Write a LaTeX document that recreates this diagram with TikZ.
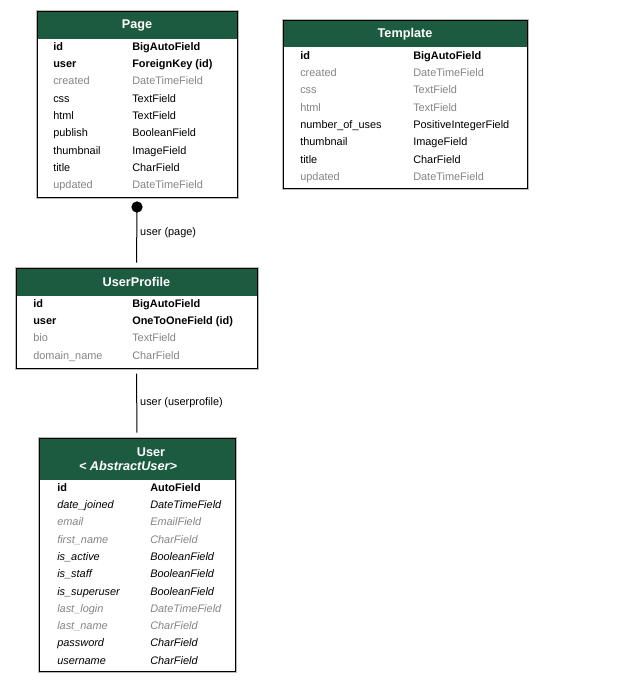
\documentclass[tikz,border=0pt]{standalone}
\usepackage{fontspec}
\setmainfont{Liberation Sans}
\usetikzlibrary{fit}

\definecolor{headgreen}{HTML}{1D5B41}
\definecolor{fadedtext}{HTML}{858585}

\begin{document}
\begin{tikzpicture}
    [x=.75pt,y=-.75pt,
     tablebox/.style={draw=black,line width=.75pt,fill=white,inner sep=0pt,
       preaction={draw=gray!55,line width=2.25pt}},
     tablehead/.style={fill=headgreen,inner sep=0pt},
     headtext/.style={text=white,inner sep=0pt,
       font=\fontsize{9.5}{11}\selectfont\bfseries},
     field/.style={anchor=west,inner sep=0pt,text height=1.6ex,text depth=.4ex,
       font=\fontsize{8.2}{10}\selectfont},
     keyfield/.style={field,font=\fontsize{8.2}{10}\selectfont\bfseries},
     optfield/.style={field,text=fadedtext},
     ifield/.style={field,font=\fontsize{8.2}{10}\selectfont\itshape},
     ioptfield/.style={ifield,text=fadedtext},
     reldot/.style={circle,fill=black,inner sep=0pt,minimum size=8.5pt},
     rellabel/.style={anchor=west,inner sep=0pt,xshift=2.2pt,
       font=\fontsize{8.2}{10}\selectfont}]
    \useasboundingbox (0,0) rectangle (639,683);

    % Page
    \node[tablebox,fit={(37,11) (237,197)}] (page) {};
    \node[tablehead,fit={(37.5,11.5) (236.5,39)}] (pagehead) {};
    \node[headtext] (pagetitle) at (pagehead.center) {Page};
    \foreach \fname/\ftype/\fkind [count=\i] in {id/BigAutoField/keyfield,
        user/ForeignKey (id)/keyfield,created/DateTimeField/optfield,
        css/TextField/field,html/TextField/field,publish/BooleanField/field,
        thumbnail/ImageField/field,title/CharField/field,
        updated/DateTimeField/optfield} {
      \node[\fkind] (page-n\i) at (53,28.7+17.3*\i) {\fname};
      \node[\fkind] (page-t\i) at (132,28.7+17.3*\i) {\ftype};
    }

    % Template
    \node[tablebox,fit={(283,20) (527,188)}] (template) {};
    \node[tablehead,fit={(283.5,20.5) (526.5,47)}] (templatehead) {};
    \node[headtext] (templatetitle) at (templatehead.center) {Template};
    \foreach \fname/\ftype/\fkind [count=\i] in {id/BigAutoField/keyfield,
        created/DateTimeField/optfield,css/TextField/optfield,
        html/TextField/optfield,number\_of\_uses/PositiveIntegerField/field,
        thumbnail/ImageField/field,title/CharField/field,
        updated/DateTimeField/optfield} {
      \node[\fkind] (template-n\i) at (300,37.7+17.3*\i) {\fname};
      \node[\fkind] (template-t\i) at (413,37.7+17.3*\i) {\ftype};
    }

    % UserProfile
    \node[tablebox,fit={(16,268) (257,368)}] (profile) {};
    \node[tablehead,fit={(16.5,268.5) (256.5,296)}] (profilehead) {};
    \node[headtext] (profiletitle) at (profilehead.center) {UserProfile};
    \foreach \fname/\ftype/\fkind [count=\i] in {id/BigAutoField/keyfield,
        user/OneToOneField (id)/keyfield,bio/TextField/optfield,
        domain\_name/CharField/optfield} {
      \node[\fkind] (profile-n\i) at (33,285.7+17.3*\i) {\fname};
      \node[\fkind] (profile-t\i) at (132,285.7+17.3*\i) {\ftype};
    }

    % User
    \node[tablebox,fit={(39,438) (235,671)}] (user) {};
    \node[tablehead,fit={(39.5,438.5) (234.5,480)}] (userhead) {};
    \node[headtext] (usertitle) at (151,452) {User};
    \node[headtext,font=\fontsize{9.5}{11}\selectfont\bfseries\itshape] (userbase) at (128,466) {<\ AbstractUser>};
    \foreach \fname/\ftype/\fkind [count=\i] in {id/AutoField/keyfield,
        date\_joined/DateTimeField/ifield,email/EmailField/ioptfield,
        first\_name/CharField/ioptfield,is\_active/BooleanField/ifield,
        is\_staff/BooleanField/ifield,is\_superuser/BooleanField/ifield,
        last\_login/DateTimeField/ioptfield,last\_name/CharField/ioptfield,
        password/CharField/ifield,username/CharField/ifield} {
      \node[\fkind] (user-n\i) at (57,469.7+17.3*\i) {\fname};
      \node[\fkind] (user-t\i) at (150,469.7+17.3*\i) {\ftype};
    }

    % relations
    \node[reldot] (pagedot) at (137,207) {};
    \draw[line width=.75pt,shorten >=3.75pt] (pagedot.center) -- (profile.north)
      node[rellabel,pos=.43] {user (page)};
    \draw[line width=.75pt,shorten <=3.75pt,shorten >=3.75pt] (profile.south) -- (user.north)
      node[rellabel,midway] {user (userprofile)};
  \end{tikzpicture}
\end{document}
